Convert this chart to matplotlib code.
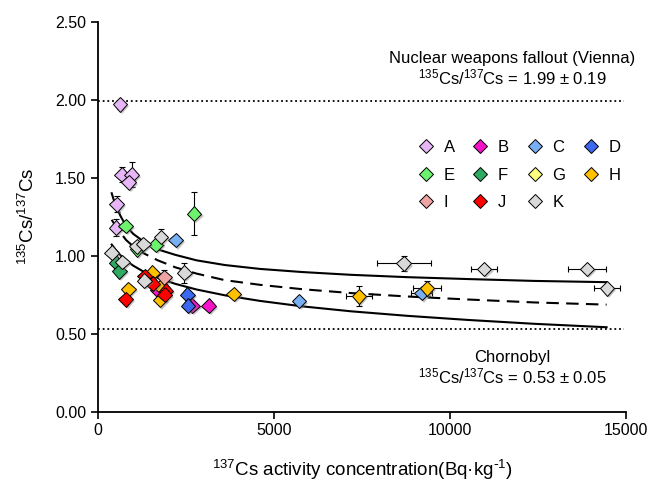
import numpy as np
import matplotlib
matplotlib.use("Agg")
import matplotlib.pyplot as plt
import matplotlib.patheffects as pe

plt.rcParams['font.family'] = ['Liberation Sans', 'DejaVu Sans']
plt.rcParams['mathtext.default'] = 'regular'

# --- data ---
a_x = [625, 673, 957, 872, 531, 511]
a_y = [1.97, 1.52, 1.52, 1.47, 1.33, 1.18]
a_ye = [0.03, 0.05, 0.08, 0.0, 0.05, 0.055]

b_x = [1680, 2680, 3150]
b_y = [0.78, 0.68, 0.68]

c_x = [2210, 5710, 9200]
c_y = [1.10, 0.71, 0.76]
c_xe = [0, 0, 300]

d_x = [2540, 2560]
d_y = [0.75, 0.68]

e_x = [787, 1110, 1640, 2730]
e_y = [1.19, 1.04, 1.07, 1.27]
e_ye = [0, 0, 0, 0.14]

f_x = [511, 606]
f_y = [0.955, 0.90]

g_x = []
g_y = []

h_x = [861, 1540, 1780, 1760, 3860, 7415, 9347]
h_y = [0.785, 0.89, 0.80, 0.715, 0.755, 0.74, 0.79]
h_xe = [0, 0, 0, 0, 0, 380, 400]
h_ye = [0, 0, 0, 0, 0, 0.065, 0.05]

i_x = [1880]
i_y = [0.86]
i_ye = [0.05]

j_x = [787, 1330, 1550, 1930, 1900]
j_y = [0.72, 0.87, 0.82, 0.775, 0.75]

k_x = [389, 690, 1100, 1290, 1790, 1316, 2450, 8690, 10970, 13890, 14460]
k_y = [1.02, 0.96, 1.06, 1.075, 1.12, 0.84, 0.89, 0.95, 0.915, 0.915, 0.79]
k_xe = [0, 0, 0, 0, 0, 0, 0, 770, 380, 540, 370]
k_ye = [0, 0, 0, 0, 0.05, 0, 0.065, 0.05, 0.02, 0.02, 0.02]

# model curves
curve_x = [390, 500, 650, 800, 1000, 1300, 1700, 2200, 2800, 3600, 4600, 5800, 7200, 8800, 10500, 12400, 14450]
upper_y = [1.40, 1.32, 1.25, 1.19, 1.14, 1.09, 1.04, 1.005, 0.97, 0.94, 0.915, 0.895, 0.877, 0.862, 0.85, 0.838, 0.83]
mid_y = [1.23, 1.19, 1.145, 1.10, 1.06, 1.015, 0.97, 0.925, 0.885, 0.843, 0.813, 0.785, 0.76, 0.738, 0.719, 0.70, 0.686]
lower_y = [1.071, 1.038, 1.0, 0.969, 0.936, 0.897, 0.857, 0.819, 0.783, 0.746, 0.710, 0.675, 0.643, 0.614, 0.588, 0.563, 0.541]

fallout_ratio = 1.99
chornobyl_ratio = 0.53

series = [
    ('A', a_x, a_y, None, a_ye, '#E6B6F6'),
    ('B', b_x, b_y, None, None, '#F512C9'),
    ('C', c_x, c_y, c_xe, None, '#78AEF2'),
    ('D', d_x, d_y, None, None, '#3A68EE'),
    ('E', e_x, e_y, None, e_ye, '#6CF26C'),
    ('F', f_x, f_y, None, None, '#2FAA62'),
    ('G', g_x, g_y, None, None, '#FFFF80'),
    ('H', h_x, h_y, h_xe, h_ye, '#FFC000'),
    ('I', i_x, i_y, None, i_ye, '#EFA3A3'),
    ('J', j_x, j_y, None, None, '#FF0000'),
    ('K', k_x, k_y, k_xe, k_ye, '#D9D9D9'),
]

fig = plt.figure(figsize=(6.51, 4.82), dpi=100)
ax = fig.add_axes([0.1505, 0.146, 0.811, 0.809])

ax.plot([0, 14950], [fallout_ratio] * 2, color='black', lw=1.3, ls=(0, (1, 1.6)))
ax.plot([0, 14950], [chornobyl_ratio] * 2, color='black', lw=1.3, ls=(0, (1, 1.6)))

ax.plot(curve_x, upper_y, color='black', lw=1.5, zorder=2)
ax.plot(curve_x, mid_y, color='black', lw=1.5, ls=(0, (6, 3.5)), zorder=2)
ax.plot(curve_x, lower_y, color='black', lw=1.5, zorder=2)

shadow = [pe.SimplePatchShadow(offset=(1.5, -1.5), shadow_rgbFace='#808080', alpha=0.45), pe.Normal()]

handles = {}
for name, xs, ys, xe, ye, col in series:
    xs = np.array(xs, dtype=float)
    ys = np.array(ys, dtype=float)
    for err, kind in ((xe, 'x'), (ye, 'y')):
        if err is None:
            continue
        err = np.array(err, dtype=float)
        m = err > 0
        if not m.any():
            continue
        kw = {'xerr': err[m]} if kind == 'x' else {'yerr': err[m]}
        ax.errorbar(xs[m], ys[m], fmt='none', ecolor='black', elinewidth=0.8,
                    capsize=2.5, capthick=0.8, zorder=3, **kw)
    ln, = ax.plot(xs, ys, ls='none', marker='D', ms=7.5, mfc=col, mec='black',
                  mew=0.7, zorder=4, label=name)
    ln.set_path_effects(shadow)
    handles[name] = ax.plot([], [], ls='none', marker='D', ms=7.5, mfc=col,
                            mec='black', mew=0.7)[0]

order = ['A', 'E', 'I', 'B', 'F', 'J', 'C', 'G', 'K', 'D', 'H']
ax.legend([handles[n] for n in order], order, ncol=4, frameon=False,
          loc='upper left', bbox_to_anchor=(0.574, 0.735), fontsize=12,
          handletextpad=0.45, columnspacing=0.95, labelspacing=0.75,
          handlelength=1.2)

ax.text(11760, 2.265, 'Nuclear weapons fallout (Vienna)', ha='center', va='center', fontsize=12)
ax.text(11760, 2.145, r'$^{135}$Cs/$^{137}$Cs = 1.99 $\pm$ 0.19', ha='center', va='center', fontsize=12)
ax.text(11760, 0.35, 'Chornobyl', ha='center', va='center', fontsize=12)
ax.text(11760, 0.225, r'$^{135}$Cs/$^{137}$Cs = 0.53 $\pm$ 0.05', ha='center', va='center', fontsize=12)

ax.set_xlim(0, 15000)
ax.set_ylim(0, 2.5)
ax.set_xticks([0, 5000, 10000, 15000])
ax.set_yticks(np.arange(0, 2.51, 0.5))
ax.yaxis.set_major_formatter(matplotlib.ticker.FormatStrFormatter('%.2f'))
ax.tick_params(direction='out', length=5, width=1.2, labelsize=11.5, colors='black')
for s in ['top', 'right']:
    ax.spines[s].set_visible(False)
for s in ['left', 'bottom']:
    ax.spines[s].set_linewidth(1.3)

ax.set_xlabel(r'$^{137}$Cs activity concentration(Bq·kg$^{\text{-}1}$)', fontsize=13.5, labelpad=14)
ax.set_ylabel(r'$^{135}$Cs/$^{137}$Cs', fontsize=13.5, labelpad=12)

fig.savefig('out.png', dpi=100)
